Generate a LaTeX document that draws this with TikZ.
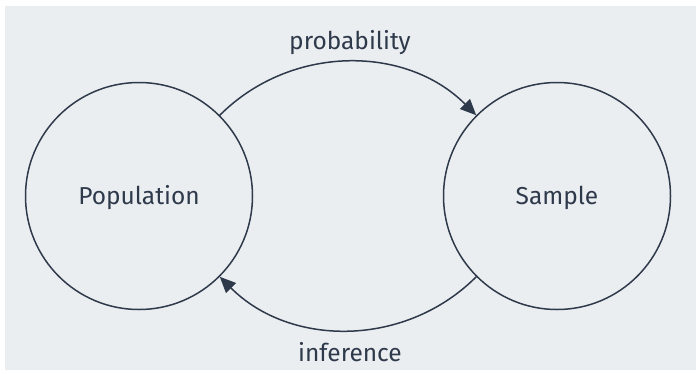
\documentclass[tikz,border=0pt]{standalone}
\usepackage{fontspec}
\setmainfont{Fira Sans}
\usetikzlibrary{arrows.meta}
\definecolor{panel}{HTML}{EBEEF0}
\definecolor{ink}{HTML}{2E3A4B}
\tikzstyle{set}=[circle,draw=ink,line width=1.5pt,minimum size=227pt,inner sep=0pt,text=ink,font=\fontsize{24.5}{29}\selectfont]
\tikzstyle{flow}=[draw=ink,line width=1.5pt,-{Triangle[length=16pt,width=14pt]}]
\tikzstyle{word}=[text=ink,font=\fontsize{24.5}{29}\selectfont]

\begin{document}
\begin{tikzpicture}[x=1pt,y=-1pt]
      \useasboundingbox (0,0) rectangle (696,373);
      \fill[white] (0,0) rectangle (696,373);
      \fill[panel] (5,6) rectangle (696,370);

      \node[set] (pop) at (139,196) {};
      \node[set] (smp) at (557,196) {};
      \node[word] (poptext) at (139,198) {Population};
      \node[word] (smptext) at (557,198) {Sample};

      \draw[flow] (pop.45) to[bend left=45] (smp.135);
      \draw[flow] (smp.225) to[bend left=45] (pop.315);

      \node[word] (prob) at (350,43) {probability};
      \node[word] (inf) at (350,352) {inference};
    \end{tikzpicture}
\end{document}
